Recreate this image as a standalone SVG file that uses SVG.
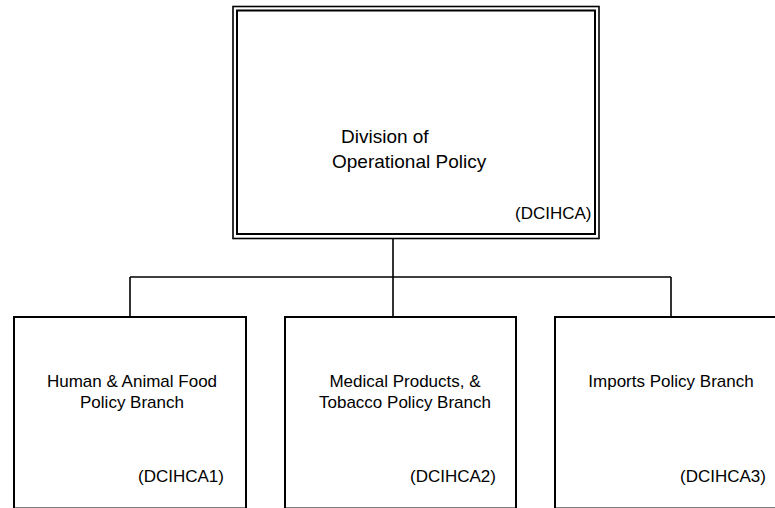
<svg xmlns="http://www.w3.org/2000/svg" width="775" height="508" viewBox="0 0 775 508">
<style>
.box{fill:#fff;stroke:#000;stroke-width:2}
.outer{fill:#fff;stroke:#000;stroke-width:1.6}
.inner{fill:none;stroke:#000;stroke-width:2}
.conn{fill:none;stroke:#000;stroke-width:1.6}
text{font-family:"Liberation Sans",Arial,sans-serif;fill:#000}
.t1{font-size:19px}
.t2{font-size:17px;text-anchor:middle}
.code{font-size:17px}
</style>
<rect width="775" height="508" fill="#fff"/>
<g id="connectors">
<path class="conn" d="M393 238 V317 M130 277 H671 M130 277 V317 M671 277 V317"/>
</g>
<g id="dop">
<rect class="outer" x="233" y="6.5" width="366" height="232"/>
<rect class="inner" x="237" y="10.5" width="358" height="223.5"/>
<text class="t1" x="341" y="143">Division of</text>
<text class="t1" x="332" y="168">Operational Policy</text>
<text class="code" x="515" y="219">(DCIHCA)</text>
</g>
<g id="b1">
<rect class="box" x="14" y="317" width="232" height="191.5"/>
<text class="t2" x="132" y="387">Human &amp; Animal Food</text>
<text class="t2" x="132" y="408">Policy Branch</text>
<text class="code" x="138" y="482">(DCIHCA1)</text>
</g>
<g id="b2">
<rect class="box" x="285" y="317" width="231" height="191.5"/>
<text class="t2" x="405" y="387">Medical Products, &amp;</text>
<text class="t2" x="405" y="408">Tobacco Policy Branch</text>
<text class="code" x="410" y="482">(DCIHCA2)</text>
</g>
<g id="b3">
<rect class="box" x="555" y="317" width="231" height="191.5"/>
<text class="t2" x="671" y="387">Imports Policy Branch</text>
<text class="code" x="680" y="482">(DCIHCA3)</text>
</g>
</svg>
